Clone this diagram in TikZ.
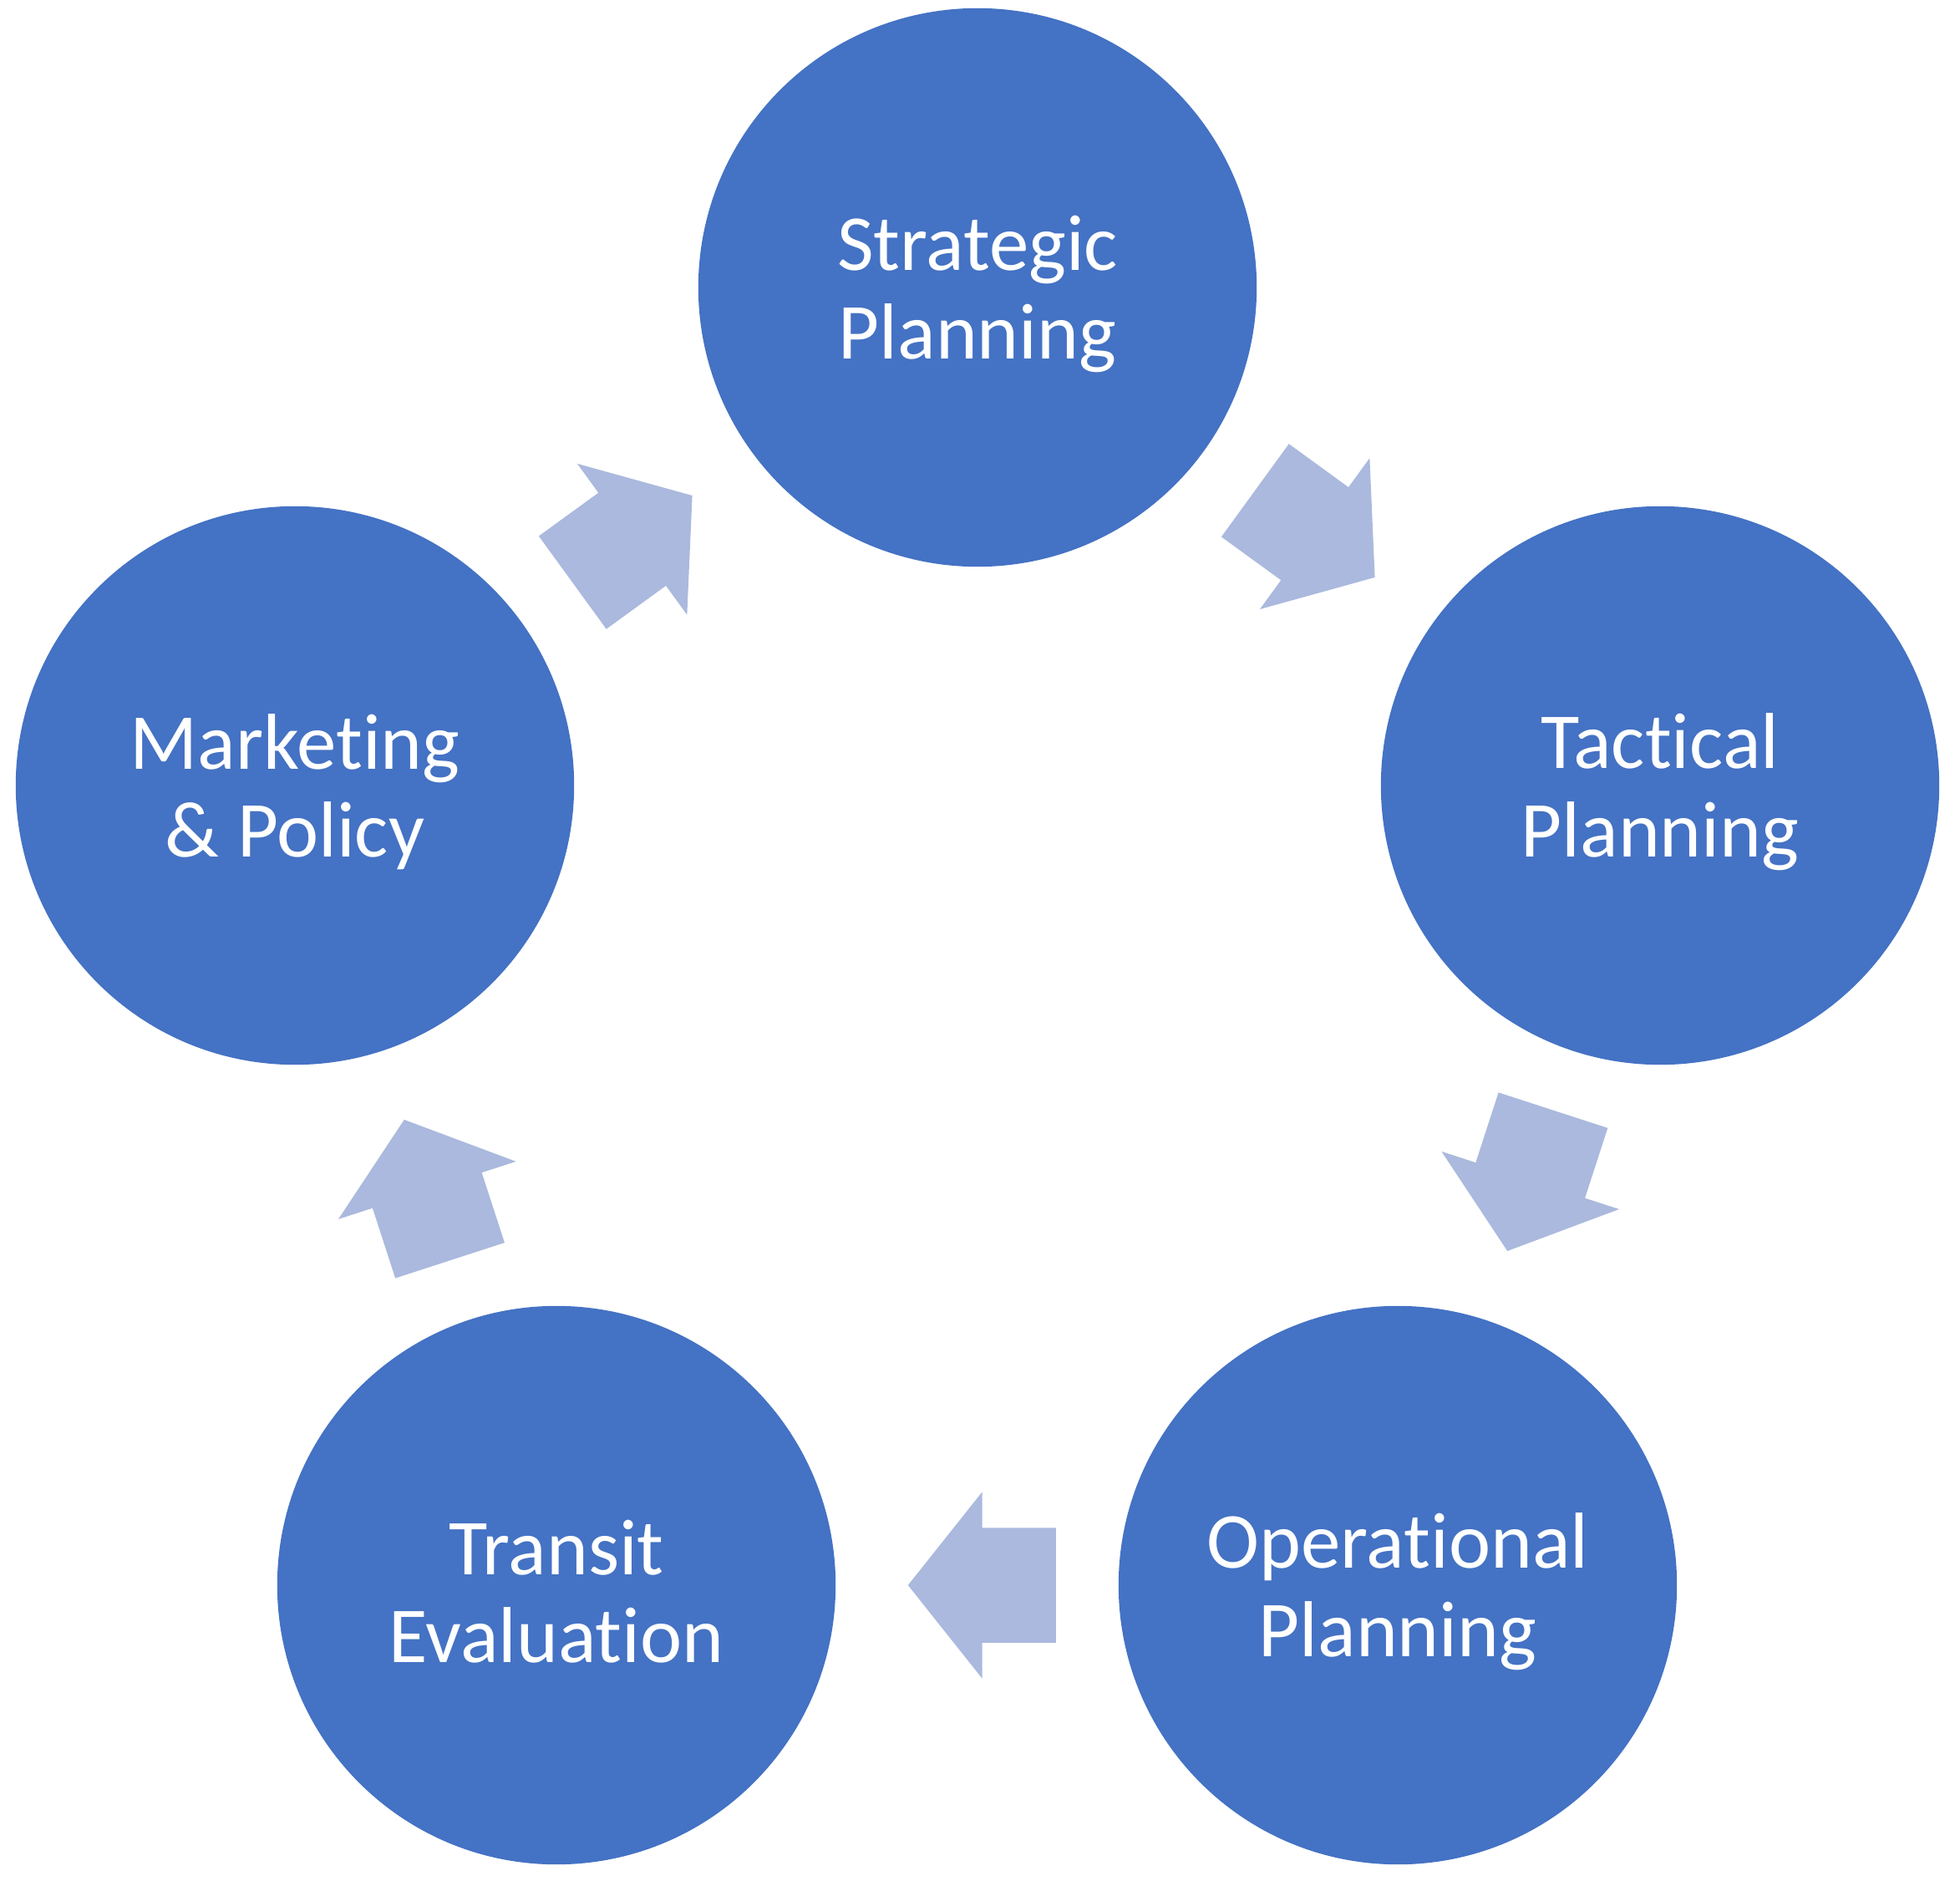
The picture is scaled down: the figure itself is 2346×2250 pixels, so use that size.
\documentclass[tikz,border=0pt]{standalone}
\usepackage{fontspec}
\setmainfont{Carlito}[Ligatures=NoCommon]
\usetikzlibrary{shapes.arrows,calc}
\definecolor{circblue}{RGB}{68,114,196}
\definecolor{arrblue}{RGB}{170,185,221}
\begin{document}
\begin{tikzpicture}[x=0.01cm,y=0.01cm,
  stage/.style={circle,fill=circblue,minimum size=6.68cm,inner sep=0pt,text=white,align=center,text height=53pt,font=\fontsize{27}{30}\selectfont},
  cyc/.style={single arrow,fill=arrblue,minimum height=1.77cm,inner xsep=0pt,inner ysep=0.68cm,single arrow head extend=0.43cm,single arrow tip angle=103,anchor=tip}]
\useasboundingbox (0,0) rectangle (2346,2250);
\node[stage] (sp) at (1170,1906) {Strategic\\Planning};
\node[stage] (tp) at (1987,1310) {Tactical\\Planning};
\node[stage] (op) at (1673,353) {Operational\\Planning};
\node[stage] (te) at (666,353) {Transit\\Evaluation};
\node[stage] (mp) at (353,1310) {Marketing\\\& Policy};
% arrows round the cycle
\foreach \a/\b/\r in {sp/tp/-36,tp/op/-108,op/te/180,te/mp/108,mp/sp/36}
\node[cyc,rotate=\r] (\a-\b) at ($(\a)!0.583!(\b)$) {};
\end{tikzpicture}
\end{document}
